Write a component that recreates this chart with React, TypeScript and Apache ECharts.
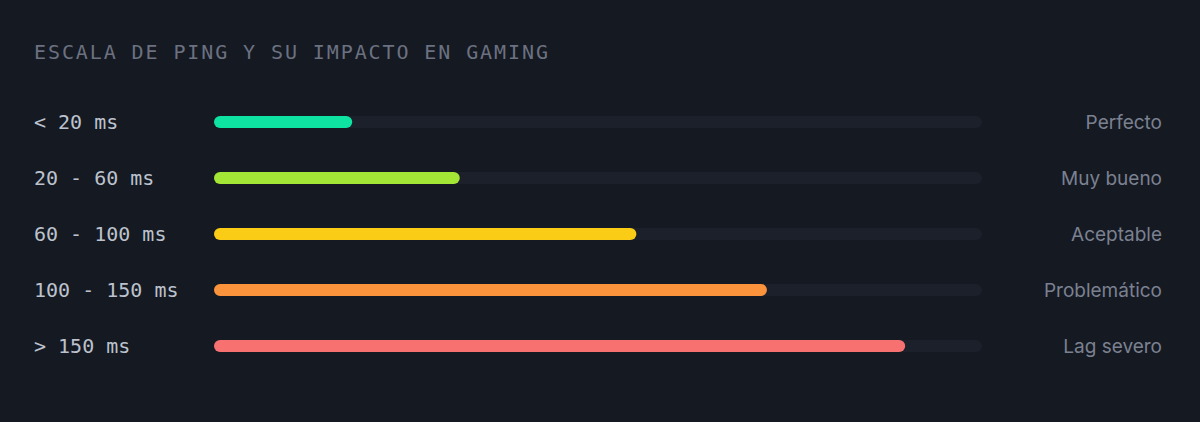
import { useEffect, useRef } from "react";
import * as echarts from "echarts";

const ranges = ["< 20 ms", "20 - 60 ms", "60 - 100 ms", "100 - 150 ms", "> 150 ms"];
const verdicts = ["Perfecto", "Muy bueno", "Aceptable", "Problemático", "Lag severo"];
const scores = [18, 32, 55, 72, 90];
const barColors = ["#0fe3a2", "#a3e635", "#facc15", "#fb923c", "#f87171"];
const trackMax = 100;

const monoFont = "DejaVu Sans Mono";

export default function App() {
  const ref = useRef<HTMLDivElement | null>(null);

  useEffect(() => {
    if (!ref.current) {
      return;
    }
    const instance = echarts.init(ref.current, null, { renderer: "svg" });

    instance.setOption({
      animation: false,
      backgroundColor: "#151922",
      title: {
        text: "ESCALA DE PING Y SU IMPACTO EN GAMING",
        left: 34,
        top: 42,
        padding: 0,
        textStyle: {
          color: "#6b7180",
          fontFamily: monoFont + ", monospace",
          fontSize: 20,
          fontWeight: "normal"
        }
      },
      grid: { left: 214, right: 218, top: 94, bottom: 48 },
      xAxis: {
        type: "value",
        min: 0,
        max: trackMax,
        show: false
      },
      yAxis: [
        {
          type: "category",
          inverse: true,
          data: ranges,
          axisLine: { show: false },
          axisTick: { show: false },
          axisLabel: {
            align: "left",
            margin: 180,
            color: "#bcc2cd",
            fontFamily: monoFont,
            fontSize: 20
          }
        },
        {
          type: "category",
          inverse: true,
          position: "right",
          data: verdicts,
          axisLine: { show: false },
          axisTick: { show: false },
          axisLabel: {
            align: "right",
            margin: 180,
            color: "#7b8191",
            fontFamily: "Inter",
            fontSize: 19
          }
        }
      ],
      series: [
        {
          name: "track",
          type: "bar",
          silent: true,
          barWidth: 12,
          barGap: "-100%",
          data: ranges.map(() => trackMax),
          itemStyle: { color: "#1c202a", borderRadius: 6 }
        },
        {
          name: "ping",
          type: "bar",
          barWidth: 12,
          z: 3,
          data: scores.map((value, i) => ({
            value,
            itemStyle: { color: barColors[i], borderRadius: 6 }
          }))
        }
      ]
    });

    return () => {
      instance.dispose();
    };
  }, []);

  return (
    <>
      <style>{`body { margin: 0; } #root svg text[style*="monospace"] { letter-spacing: 1.9px; }`}</style>
      <div ref={ref} style={{ width: 1200, height: 422 }} />
    </>
  );
}
